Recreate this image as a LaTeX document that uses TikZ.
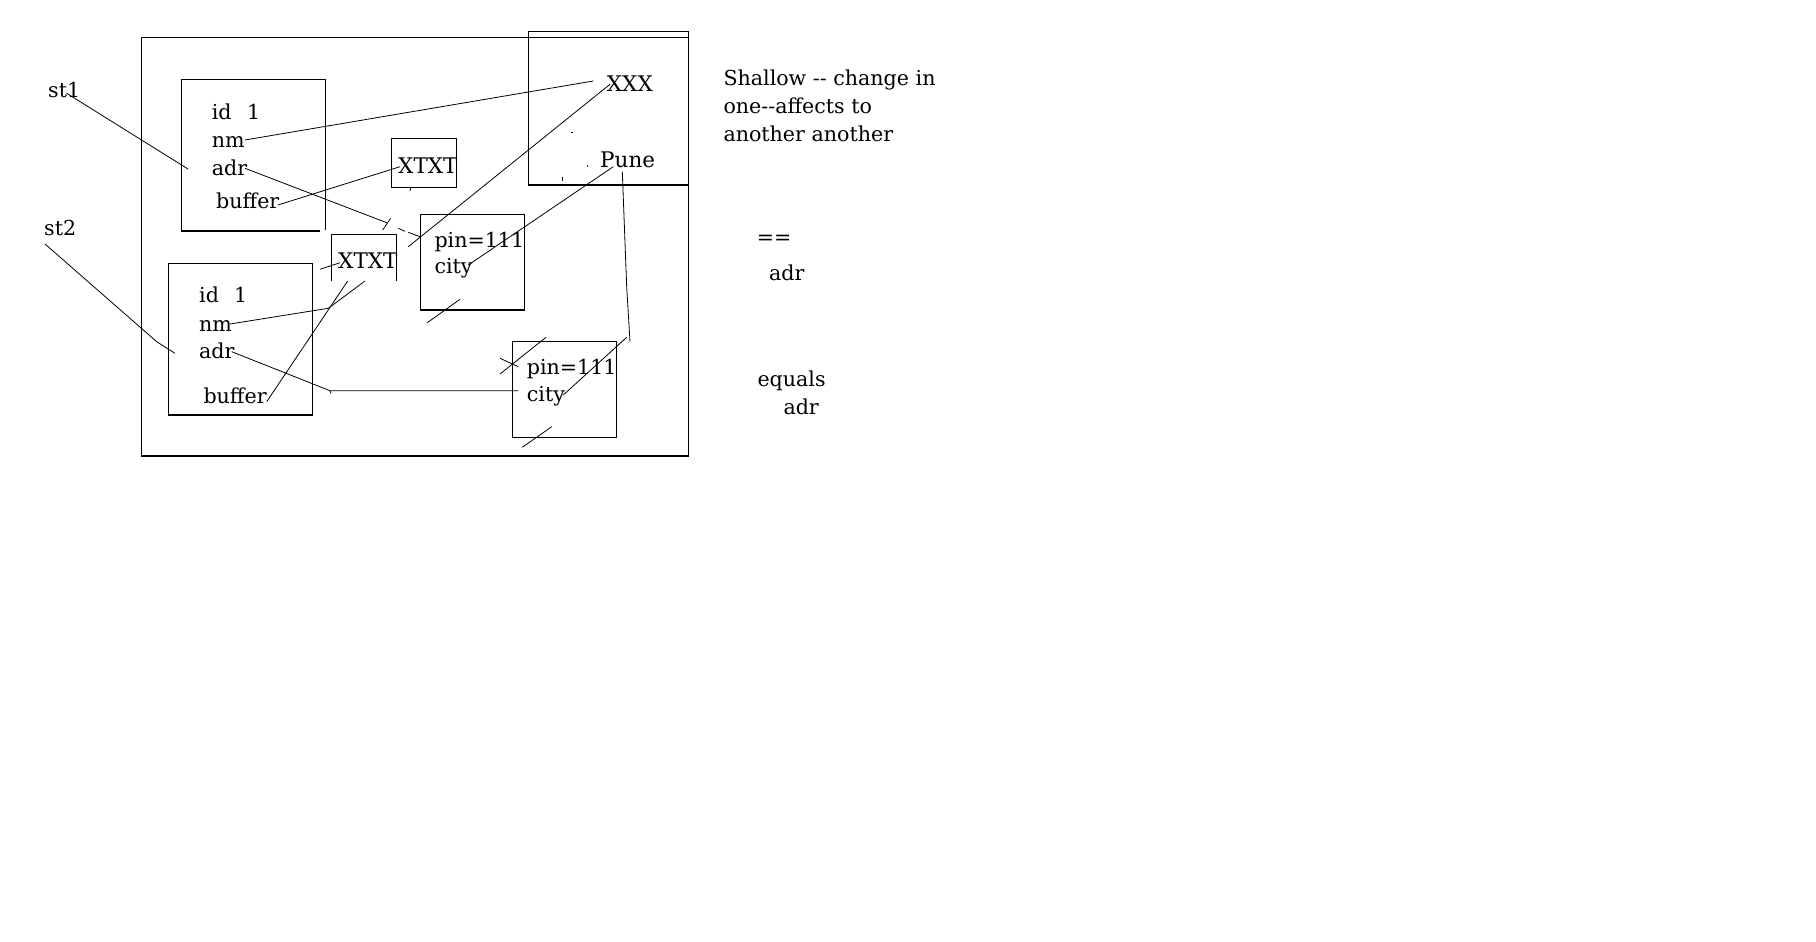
\documentclass[tikz,border=0pt]{standalone}
\usepackage{fontspec}
\setmainfont{DejaVu Serif}
\begin{document}
\begin{tikzpicture}[x=1pt,y=-1pt,
  box/.style={draw=black,line width=1.2pt},
  ln/.style={draw=black,line width=0.8pt},
  txt/.style={anchor=base west,inner sep=0pt,font=\fontsize{20.6}{28.3}\selectfont},
  big/.style={anchor=base west,inner sep=0pt,font=\fontsize{21.5}{26}\selectfont}]
\useasboundingbox (0,0) rectangle (1816,942);
\fill[white] (0,0) rectangle (1816,942);
% outer frame and boxes
\draw[box] (141.7,37.3) rectangle (688.3,456);
\draw[box] (528.3,185) -- (528.3,31.7) -- (688.3,31.7) -- (688.3,185) -- cycle;
\draw[box] (320,231) -- (181.3,231) -- (181.3,79.3) -- (325.3,79.3) -- (325.3,230);
\draw[box] (168.7,263.3) rectangle (312.3,415);
\draw[box] (391.7,138.3) rectangle (456.7,187.3);
\draw[box] (331.7,281) -- (331.7,234.3) -- (396.7,234.3) -- (396.7,281);
\draw[box] (420.7,214.3) rectangle (524.3,310);
\draw[box] (512.3,341.7) rectangle (616.3,437.3);
% texts
\node[txt] (st1) at (48,98) {st1};
\node[txt] (st2) at (44,235) {st2};
\node[txt] (id1) at (211.7,119) {id};
\node[txt] (one1) at (247,119) {1};
\node[txt] (nm1) at (211.7,147.3) {nm};
\node[txt] (adr1) at (211.7,175) {adr};
\node[txt] (buf1) at (216,208) {buffer};
\node[txt] (id2) at (199,302.3) {id};
\node[txt] (one2) at (234,302.3) {1};
\node[txt] (nm2) at (199,331) {nm};
\node[txt] (adr2) at (199,358.3) {adr};
\node[txt] (buf2) at (203.3,403.3) {buffer};
\node[big] (xtxt1) at (398,173.3) {XTXT};
\node[big] (xtxt2) at (338,268.3) {XTXT};
\node[big] (xxx) at (606.7,91.7) {XXX};
\node[big] (pune) at (600,167.3) {Pune};
\node[txt] (pin1) at (434.3,247) {pin=111};
\node[txt] (city1) at (434.3,273.3) {city};
\node[txt] (pin2) at (526.7,374) {pin=111};
\node[txt] (city2) at (526.7,401) {city};
\node[txt] (sh1) at (723.3,85) {Shallow -{}- change in};
\node[txt] (sh2) at (723.3,113.3) {one-{}-affects to};
\node[txt] (sh3) at (723.3,141.7) {another another};
\node[txt] (eqeq) at (756.7,244.3) {==};
\node[txt] (adr3) at (769,280.7) {adr};
\node[txt] (equals) at (757.3,386.7) {equals};
\node[txt] (adr4) at (783.3,414) {adr};
% hand-drawn connectors
\draw[ln] (66.7,93.3) -- (188,169);
\draw[ln] (45,244) -- (156.7,341.7) -- (175,353.3);
\draw[ln] (245,140) -- (593.3,81);
\draw[ln] (245,168.3) -- (386.7,222.7);
\draw[ln] (390.7,218.3) -- (382.7,230);
\draw[ln] (398.3,228.3) -- (405,231.3);
\draw[ln] (408.3,232.3) -- (420,236.7);
\draw[ln] (278,205) -- (400,166.7);
\draw[ln] (610,84.3) -- (408.3,246.7);
\draw[ln] (613.3,166.7) -- (468.3,265);
\draw[ln] (622.3,171.7) -- (626.7,287) -- (630,341.7);
\draw[ln] (626.7,337.3) -- (563.3,395);
\draw[ln] (427.3,322.7) -- (460,299.3);
\draw[ln] (522.3,447.3) -- (551.7,426.7);
\draw[ln] (500,358.3) -- (518.3,366.7);
\draw[ln] (500,374) -- (546,337.3);
\draw[ln] (231.7,351.7) -- (330,390.7) -- (518.3,390.7);
\draw[ln] (330,390.7) -- (331,393.5);
\draw[ln] (230,324) -- (328.3,308.3) -- (365,281);
\draw[ln] (266.7,401.7) -- (347.7,281);
\draw[ln] (320,269.3) -- (340,262.7);
\draw[ln] (410.7,188) -- (410,191);
\draw[ln] (570.5,132.7) -- (573,132.7);
\draw[ln] (587,165.5) -- (588,166.5);
\draw[ln] (562.7,176.7) -- (562.7,180.7);
\end{tikzpicture}
\end{document}
